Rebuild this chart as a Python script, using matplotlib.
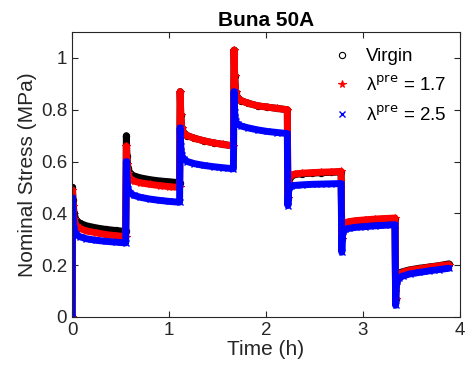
import numpy as np
from matplotlib import pyplot as plt

plt.rcParams['font.family'] = ['Liberation Sans', 'DejaVu Sans']

# step start times (h) and offsets within each hold
step_start = [0.0, 0.556, 1.111, 1.667, 2.222, 2.778, 3.333]
offsets = [0.0, 0.006, 0.016, 0.036, 0.074, 0.144, 0.244, 0.344, 0.444, 0.549]

# nominal stress (MPa), one row per hold, one value per offset
virgin = [
    [0.50, 0.45, 0.40, 0.375, 0.362, 0.352, 0.344, 0.338, 0.334, 0.330],
    [0.70, 0.62, 0.575, 0.555, 0.545, 0.537, 0.530, 0.525, 0.522, 0.518],
    [0.87, 0.78, 0.73, 0.71, 0.70, 0.69, 0.68, 0.672, 0.666, 0.660],
    [1.03, 0.93, 0.87, 0.845, 0.835, 0.825, 0.815, 0.81, 0.805, 0.800],
    [0.46, 0.50, 0.53, 0.545, 0.55, 0.553, 0.555, 0.557, 0.558, 0.560],
    [0.30, 0.34, 0.355, 0.362, 0.366, 0.370, 0.373, 0.376, 0.378, 0.380],
    [0.07, 0.13, 0.16, 0.17, 0.175, 0.182, 0.188, 0.193, 0.198, 0.205],
]
pre17 = [
    [0.49, 0.43, 0.38, 0.355, 0.342, 0.332, 0.325, 0.318, 0.314, 0.310],
    [0.66, 0.59, 0.555, 0.535, 0.525, 0.518, 0.512, 0.507, 0.503, 0.500],
    [0.87, 0.78, 0.73, 0.71, 0.70, 0.69, 0.68, 0.672, 0.666, 0.660],
    [1.03, 0.93, 0.87, 0.845, 0.835, 0.825, 0.815, 0.81, 0.805, 0.800],
    [0.46, 0.52, 0.54, 0.548, 0.552, 0.555, 0.557, 0.559, 0.560, 0.562],
    [0.30, 0.345, 0.358, 0.364, 0.368, 0.372, 0.375, 0.378, 0.380, 0.382],
    [0.07, 0.13, 0.155, 0.165, 0.172, 0.180, 0.186, 0.192, 0.197, 0.202],
]
pre25 = [
    [0.46, 0.39, 0.34, 0.32, 0.31, 0.302, 0.296, 0.292, 0.289, 0.286],
    [0.60, 0.53, 0.495, 0.48, 0.47, 0.462, 0.455, 0.450, 0.446, 0.443],
    [0.73, 0.66, 0.625, 0.61, 0.60, 0.592, 0.585, 0.580, 0.576, 0.572],
    [0.87, 0.79, 0.755, 0.745, 0.737, 0.730, 0.722, 0.716, 0.712, 0.708],
    [0.43, 0.48, 0.50, 0.505, 0.508, 0.510, 0.512, 0.513, 0.514, 0.515],
    [0.25, 0.31, 0.33, 0.338, 0.342, 0.346, 0.349, 0.352, 0.354, 0.356],
    [0.045, 0.11, 0.14, 0.15, 0.158, 0.166, 0.172, 0.178, 0.183, 0.188],
]


def series(rows):
    t = [0.0]
    s = [0.0]
    for t0, row in zip(step_start, rows):
        t += [t0 + 0.004 + o for o in offsets]
        s += row
    return np.array(t), np.array(s)


fig = plt.figure(figsize=(4.65, 3.79), dpi=100)
ax = fig.add_axes([0.155, 0.1636, 0.834, 0.752])

styles = [
    (virgin, 'k', 'o', 'Virgin', dict(mfc='none', ms=4.5, mew=0.8)),
    (pre17, 'r', '*', 'λ$^{\\rm pre}$ = 1.7', dict(ms=5.5, mew=0.8)),
    (pre25, 'b', 'x', 'λ$^{\\rm pre}$ = 2.5', dict(ms=4.5, mew=1.0)),
]
for rows, c, m, lab, kw in styles:
    t, s = series(rows)
    ax.plot(t, s, '-', color=c, lw=5, solid_capstyle='round')
    ax.plot(t, s, ls='none', marker=m, color=c, label=lab, **kw)

ax.set_xlim(0, 4)
ax.set_ylim(0, 1.1)
ax.set_xticks([0, 1, 2, 3, 4])
ax.set_yticks([0, 0.2, 0.4, 0.6, 0.8, 1])
ax.set_yticklabels(['0', '0.2', '0.4', '0.6', '0.8', '1'])
ax.tick_params(direction='in', top=True, right=True, length=4, width=0.8,
               labelsize=13.5, colors='#262626')
for sp in ax.spines.values():
    sp.set_color('#262626')
    sp.set_linewidth(0.8)

ax.set_xlabel('Time (h)', fontsize=15, color='#262626', labelpad=1)
ax.set_ylabel('Nominal Stress (MPa)', fontsize=15, color='#262626', labelpad=3)
ax.set_title('Buna 50A', fontsize=15, fontweight='bold', pad=4)

ax.legend(loc='upper right', frameon=False, fontsize=13.5, handletextpad=0.7,
          handlelength=1.2, labelspacing=0.55, borderaxespad=0.3,
          bbox_to_anchor=(1.0, 0.99))

fig.savefig('out.png', dpi=100)
